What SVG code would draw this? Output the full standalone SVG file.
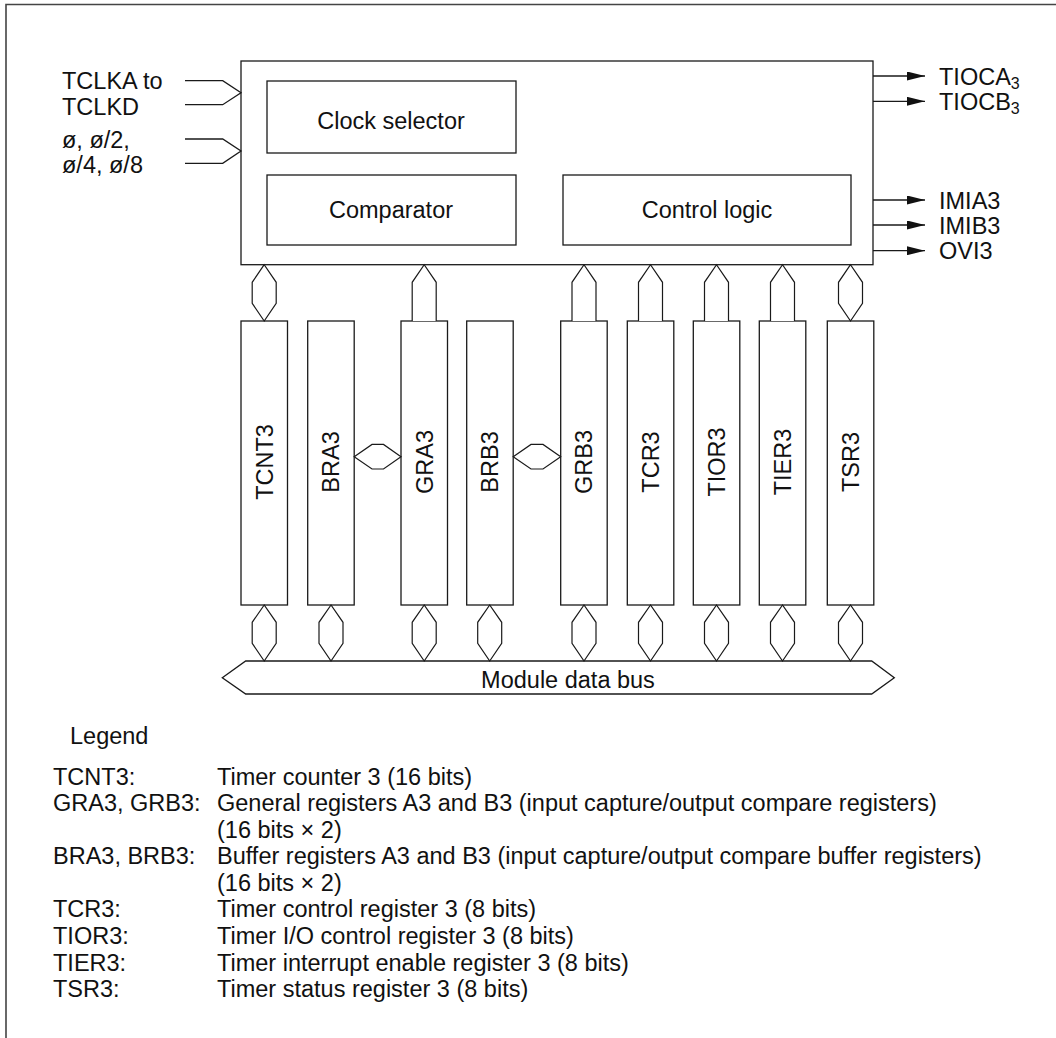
<svg xmlns="http://www.w3.org/2000/svg" width="1056" height="1038" viewBox="0 0 1056 1038">
<style>
  text { font-family: "Liberation Sans", Arial, sans-serif; font-size: 23.5px; fill: #111; }
  .box { fill: #fff; stroke: #1a1a1a; stroke-width: 1.3; }
  .ln { fill: none; stroke: #1a1a1a; stroke-width: 1.3; }
  .hx { fill: #fff; stroke: #1a1a1a; stroke-width: 1.2; }
  .frame { fill: none; stroke: #444; stroke-width: 1.6; }
  .mid { text-anchor: middle; }
  .sub { font-size: 16px; }
</style>
<defs>
  <marker id="arr" markerWidth="18" markerHeight="9" refX="18" refY="4.5" orient="auto" markerUnits="userSpaceOnUse">
    <path d="M0,0 L18,4.5 L0,9 Z" fill="#111"/>
  </marker>
</defs>
<rect width="1056" height="1038" fill="#fff"/>
<path class="frame" d="M6,1038 L6,4.5 L1056,4.5"/>

<g id="main-block">
  <rect class="box" x="241" y="61" width="632" height="203.7"/>
</g>
<g id="clock-selector">
  <rect class="box" x="267" y="81" width="249" height="72"/>
  <text class="mid" x="391" y="129">Clock selector</text>
</g>
<g id="comparator">
  <rect class="box" x="267" y="175" width="249" height="70"/>
  <text class="mid" x="391" y="218">Comparator</text>
</g>
<g id="control-logic">
  <rect class="box" x="563" y="175" width="288" height="70"/>
  <text class="mid" x="707" y="218">Control logic</text>
</g>

<g id="input-labels">
  <text x="62" y="89">TCLKA to</text>
  <text x="62" y="115">TCLKD</text>
  <text x="62" y="148">ø, ø/2,</text>
  <text x="62" y="173">ø/4, ø/8</text>
</g>
<g id="output-labels">
  <text x="939" y="85">TIOCA<tspan class="sub" dy="4">3</tspan></text>
  <text x="939" y="110">TIOCB<tspan class="sub" dy="4">3</tspan></text>
  <text x="939" y="208.5">IMIA3</text>
  <text x="939" y="233.5">IMIB3</text>
  <text x="939" y="259">OVI3</text>
</g>

<g id="reg-TCNT3"><rect class="box" x="241" y="321" width="46.5" height="284"/><text class="mid" transform="translate(272.7,462) rotate(-90)">TCNT3</text></g>
<g id="reg-BRA3"><rect class="box" x="307.7" y="321" width="46.5" height="284"/><text class="mid" transform="translate(339.4,462) rotate(-90)">BRA3</text></g>
<g id="reg-GRA3"><rect class="box" x="401" y="321" width="46.5" height="284"/><text class="mid" transform="translate(432.7,462) rotate(-90)">GRA3</text></g>
<g id="reg-BRB3"><rect class="box" x="466.7" y="321" width="46.5" height="284"/><text class="mid" transform="translate(498.4,462) rotate(-90)">BRB3</text></g>
<g id="reg-GRB3"><rect class="box" x="560.7" y="321" width="46.5" height="284"/><text class="mid" transform="translate(592.4,462) rotate(-90)">GRB3</text></g>
<g id="reg-TCR3"><rect class="box" x="627.3" y="321" width="46.5" height="284"/><text class="mid" transform="translate(659,462) rotate(-90)">TCR3</text></g>
<g id="reg-TIOR3"><rect class="box" x="693.3" y="321" width="46.5" height="284"/><text class="mid" transform="translate(725,462) rotate(-90)">TIOR3</text></g>
<g id="reg-TIER3"><rect class="box" x="759.3" y="321" width="46.5" height="284"/><text class="mid" transform="translate(791,462) rotate(-90)">TIER3</text></g>
<g id="reg-TSR3"><rect class="box" x="827.3" y="321" width="46.5" height="284"/><text class="mid" transform="translate(859,462) rotate(-90)">TSR3</text></g>

<g id="module-data-bus">
  <path class="box" d="M222.3,677.7 L245.7,661 L871.7,661 L894.3,677.7 L871.7,694 L245.7,694 Z"/>
  <text class="mid" x="568" y="688">Module data bus</text>
</g>

<g id="connectors">
  <!-- inputs -->
  <path class="ln" d="M185,80.7 L222.7,80.7 L241,92.7 L222.7,104.7 L185,104.7"/>
  <path class="ln" d="M185,139 L222.7,139 L241,151 L222.7,163.3 L185,163.3"/>
  <!-- outputs -->
  <path class="ln" d="M873,76 L925,76" marker-end="url(#arr)"/>
  <path class="ln" d="M873,101.3 L925,101.3" marker-end="url(#arr)"/>
  <path class="ln" d="M873,200 L925,200" marker-end="url(#arr)"/>
  <path class="ln" d="M873,225 L925,225" marker-end="url(#arr)"/>
  <path class="ln" d="M873,250.7 L925,250.7" marker-end="url(#arr)"/>
  <!-- top: bidirectional -->
  <path class="hx" d="M264.2,264.7 L252.2,282.3 L252.2,303.3 L264.2,321 L276.2,303.3 L276.2,282.3 Z"/>
  <path class="hx" d="M850.5,264.7 L838.5,282.3 L838.5,303.3 L850.5,321 L862.5,303.3 L862.5,282.3 Z"/>
  <!-- top: upward -->
  <path class="hx" d="M412.2,321 L412.2,282.3 L424.2,264.7 L436.2,282.3 L436.2,321"/>
  <path class="hx" d="M572,321 L572,282.3 L584,264.7 L596,282.3 L596,321"/>
  <path class="hx" d="M638.5,321 L638.5,282.3 L650.5,264.7 L662.5,282.3 L662.5,321"/>
  <path class="hx" d="M704.5,321 L704.5,282.3 L716.5,264.7 L728.5,282.3 L728.5,321"/>
  <path class="hx" d="M770.5,321 L770.5,282.3 L782.5,264.7 L794.5,282.3 L794.5,321"/>
  <!-- horizontal between buffer and general regs -->
  <path class="hx" d="M354.2,456.7 L372,444.4 L383.5,444.4 L401,456.7 L383.5,469 L372,469 Z"/>
  <path class="hx" d="M513.2,456.7 L531,444.4 L543,444.4 L560.7,456.7 L543,469 L531,469 Z"/>
  <!-- bottom: to bus -->
  <path class="hx" d="M264.2,605 L252.2,622.3 L252.2,643.3 L264.2,661 L276.2,643.3 L276.2,622.3 Z"/>
  <path class="hx" d="M331,605 L319,622.3 L319,643.3 L331,661 L343,643.3 L343,622.3 Z"/>
  <path class="hx" d="M424.2,605 L412.2,622.3 L412.2,643.3 L424.2,661 L436.2,643.3 L436.2,622.3 Z"/>
  <path class="hx" d="M489.7,605 L477.7,622.3 L477.7,643.3 L489.7,661 L501.7,643.3 L501.7,622.3 Z"/>
  <path class="hx" d="M584,605 L572,622.3 L572,643.3 L584,661 L596,643.3 L596,622.3 Z"/>
  <path class="hx" d="M650.5,605 L638.5,622.3 L638.5,643.3 L650.5,661 L662.5,643.3 L662.5,622.3 Z"/>
  <path class="hx" d="M716.5,605 L704.5,622.3 L704.5,643.3 L716.5,661 L728.5,643.3 L728.5,622.3 Z"/>
  <path class="hx" d="M782.5,605 L770.5,622.3 L770.5,643.3 L782.5,661 L794.5,643.3 L794.5,622.3 Z"/>
  <path class="hx" d="M850.5,605 L838.5,622.3 L838.5,643.3 L850.5,661 L862.5,643.3 L862.5,622.3 Z"/>
</g>

<g id="legend">
  <text x="70" y="744">Legend</text>
  <text x="53" y="784.5">TCNT3:</text><text x="217" y="784.5">Timer counter 3 (16 bits)</text>
  <text x="53" y="811">GRA3, GRB3:</text><text x="217" y="811">General registers A3 and B3 (input capture/output compare registers)</text>
  <text x="217" y="837.6">(16 bits × 2)</text>
  <text x="53" y="864.2">BRA3, BRB3:</text><text x="217" y="864.2">Buffer registers A3 and B3 (input capture/output compare buffer registers)</text>
  <text x="217" y="890.8">(16 bits × 2)</text>
  <text x="53" y="917.4">TCR3:</text><text x="217" y="917.4">Timer control register 3 (8 bits)</text>
  <text x="53" y="944">TIOR3:</text><text x="217" y="944">Timer I/O control register 3 (8 bits)</text>
  <text x="53" y="970.6">TIER3:</text><text x="217" y="970.6">Timer interrupt enable register 3 (8 bits)</text>
  <text x="53" y="997.2">TSR3:</text><text x="217" y="997.2">Timer status register 3 (8 bits)</text>
</g>
</svg>
